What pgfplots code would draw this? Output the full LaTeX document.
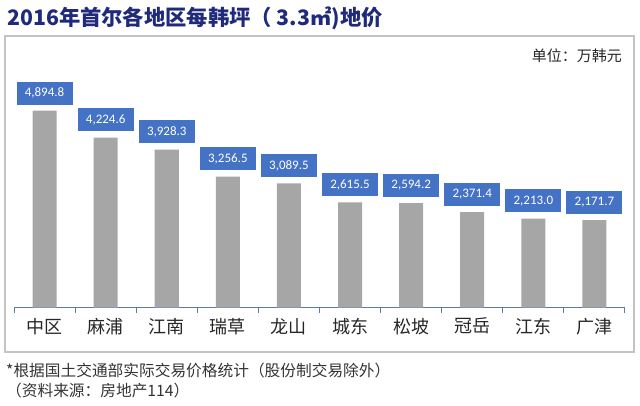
\documentclass[border=0pt]{standalone}
\usepackage{pgfplots}
\pgfplotsset{compat=1.18}
\usepackage{fontspec}
\setmainfont{Carlito}
\newfontfamily\cjk{Noto Sans CJK SC}
\definecolor{barg}{HTML}{A6A6A6}
\definecolor{boxb}{HTML}{4472C4}
\definecolor{navy}{HTML}{1F2A7A}
\definecolor{axb}{HTML}{5A7AA8}
\definecolor{frameg}{HTML}{C4C4C4}
\begin{document}
\begin{tikzpicture}
\path[use as bounding box] (0pt,0pt) rectangle (640pt,-405pt);
\node[anchor=base west, inner sep=0, text=navy, font=\cjk\bfseries\fontsize{21.3}{21.3}\selectfont] at (7pt,-25pt) {2016年首尔各地区每韩坪（ 3.3㎡)地价};
\draw[frameg, line width=1.6pt] (5pt,-36pt) rectangle (634pt,-352pt);
\node[anchor=base east, inner sep=0, font=\cjk\fontsize{15}{15}\selectfont, text=black!85] at (622pt,-61pt) {单位：万韩元};
\begin{axis}[
  at={(14pt,-307.5pt)}, anchor=south west,
  width=611pt, height=250pt, scale only axis,
  xmin=-0.5, xmax=9.5, ymin=0, ymax=6219,
  axis x line=bottom, axis y line=none,
  x axis line style={axb, line width=1.2pt, -},
  ybar, bar width=24pt, clip=false,
  xtick={0,...,9},
  xticklabels={中区,麻浦,江南,瑞草,龙山,城东,松坡,冠岳,江东,广津},
  xticklabel style={font=\cjk\fontsize{18}{18}\selectfont, text=black!85, yshift=-7pt},
  major tick length=0pt,
  minor xtick={-0.5,0.5,...,9.5},
  minor tick length=5pt, tick align=outside,
  minor tick style={axb, line width=1pt},
  point meta=y,
  /pgf/number format/assume math mode=true,
  nodes near coords={\pgfmathprintnumber[fixed,fixed zerofill,precision=1,1000 sep={,}]{\pgfplotspointmeta}},
  every node near coord/.append style={fill=boxb, text=white, font=\fontsize{13}{13}\selectfont, minimum width=56pt, minimum height=23pt, inner sep=0pt, anchor=south, yshift=6pt},
]
\addplot[fill=barg, draw=none] coordinates {(0,4894.8) (1,4224.6) (2,3928.3) (3,3256.5) (4,3089.5) (5,2615.5) (6,2594.2) (7,2371.4) (8,2213.0) (9,2171.7)};
\end{axis}
\node[anchor=base west, inner sep=0, font=\cjk\fontsize{15.7}{15.7}\selectfont, text=black!80] at (6pt,-376pt) {*根据国土交通部实际交易价格统计（股份制交易除外）};
\node[anchor=base west, inner sep=0, font=\cjk\fontsize{15.7}{15.7}\selectfont, text=black!80] at (6pt,-396pt) {（资料来源：房地产114）};
\end{tikzpicture}
\end{document}
